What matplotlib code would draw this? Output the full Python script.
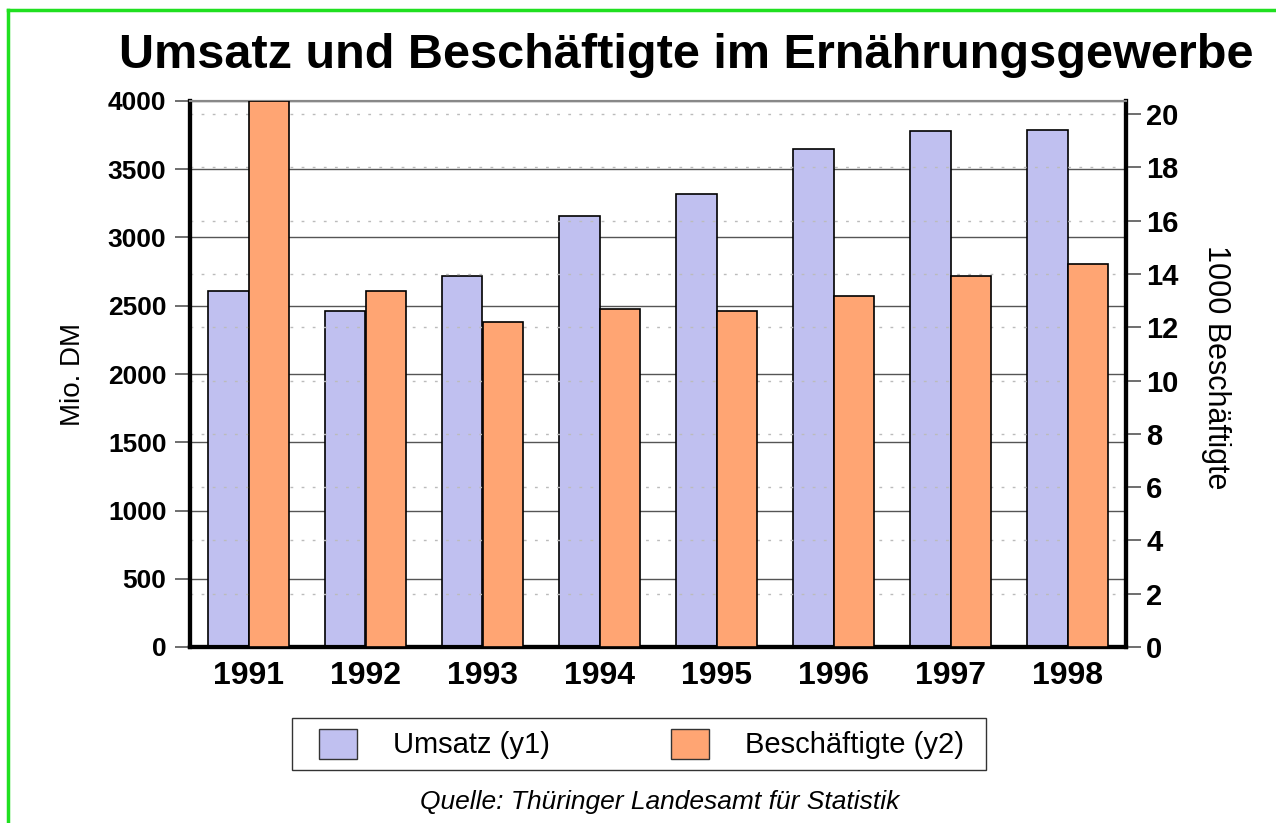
import matplotlib.pyplot as plt
import numpy as np
from matplotlib.lines import Line2D
from matplotlib.patches import Patch, Rectangle

plt.rcParams['font.family'] = ['Liberation Sans', 'DejaVu Sans']

# Daten
jahre = ["1991", "1992", "1993", "1994", "1995", "1996", "1997", "1998"]
umsatz = [2608, 2462, 2718, 3158, 3319, 3648, 3780, 3788]          # Mio. DM
beschaeftigte = [20.49, 13.36, 12.2, 12.68, 12.61, 13.17, 13.92, 14.37]  # 1000

blau = "#c0c0f0"
orange = "#ffa573"

fig = plt.figure(figsize=(12.76, 8.23), dpi=100)
ax = fig.add_axes([190 / 1276, 1 - 647 / 823, 936 / 1276, 546 / 823])
ax2 = ax.twinx()

x = np.arange(len(jahre))
w = 0.35
ax.bar(x - w / 2, umsatz, w, color=blau, edgecolor="black", linewidth=1.2, zorder=3)
ax2.bar(x + w / 2, beschaeftigte, w, color=orange, edgecolor="black", linewidth=1.2, zorder=3)

ax.set_xlim(-0.5, len(jahre) - 0.5)
ax.set_ylim(0, 4000)
ax2.set_ylim(0, 20.49)
ax.set_yticks(np.arange(0, 4001, 500))
ax2.set_yticks(np.arange(0, 21, 2))
ax.set_xticks(x)
ax.set_xticklabels(jahre, fontsize=23, fontweight="bold")
for t in ax.get_yticklabels():
    t.set_fontweight("bold")
for t in ax2.get_yticklabels():
    t.set_fontweight("bold")

# Gitterlinien: durchgezogen (links), gepunktet (rechts)
for v in np.arange(500, 4001, 500):
    ax.axhline(v, color="#555555", lw=1, zorder=1)
for v in np.arange(2, 21, 2):
    ax2.axhline(v, color="#bbbbbb", lw=1, ls=(0, (2, 6)), zorder=0)
ax2.set_zorder(ax.get_zorder() + 1)
ax2.patch.set_visible(False)

ax.tick_params(axis="y", length=11, width=1.2, color="#555555", labelsize=19, pad=6)
ax.tick_params(axis="x", length=0, pad=10)
ax2.tick_params(axis="y", length=11, width=1.2, color="#555555", labelsize=21)

for a in (ax, ax2):
    a.spines["top"].set_color("#888888")
    a.spines["top"].set_linewidth(1.5)
    for s in ("left", "right", "bottom"):
        a.spines[s].set_linewidth(3)

ax.set_ylabel("Mio. DM", fontsize=20, labelpad=16)
ax2.set_ylabel("1000 Beschäftigte", fontsize=22, rotation=270, va="center")
ax2.yaxis.set_label_coords(1.096, 0.513)

fig.text(686 / 1276, 1 - 55 / 823, "Umsatz und Beschäftigte im Ernährungsgewerbe",
         fontsize=35, fontweight="bold", ha="center", va="center")

# Legende: Rahmen separat, Inhalt ohne Rahmen
fig.add_artist(Rectangle((292 / 1276, 1 - 770 / 823), 694 / 1276, 52 / 823,
                         transform=fig.transFigure, facecolor="white",
                         edgecolor="#333333", lw=1))
handles = [Patch(facecolor=blau, edgecolor="#333333"),
           Patch(facecolor=orange, edgecolor="#333333")]
fig.legend(handles, ["Umsatz (y1)", "Beschäftigte (y2)"], ncol=2,
           loc="center left", mode="expand",
           bbox_to_anchor=(319 / 1276, 1 - 744 / 823, 645 / 1276, 0),
           fontsize=21, handlelength=1.3, handleheight=1.2, handletextpad=1.25,
           frameon=False, borderaxespad=0, borderpad=0)

fig.text(660 / 1276, 1 - 802 / 823, "Quelle: Thüringer Landesamt für Statistik",
         fontsize=19, style="italic", ha="center", va="center")

# gruener Rahmen oben und links
fig.add_artist(Line2D([8 / 1276, 8 / 1276], [0, 1 - 10 / 823], color="#20e020", lw=2.5))
fig.add_artist(Line2D([8 / 1276, 1], [1 - 10 / 823, 1 - 10 / 823], color="#20e020", lw=2.5))

fig.savefig("out.png", dpi=100)
